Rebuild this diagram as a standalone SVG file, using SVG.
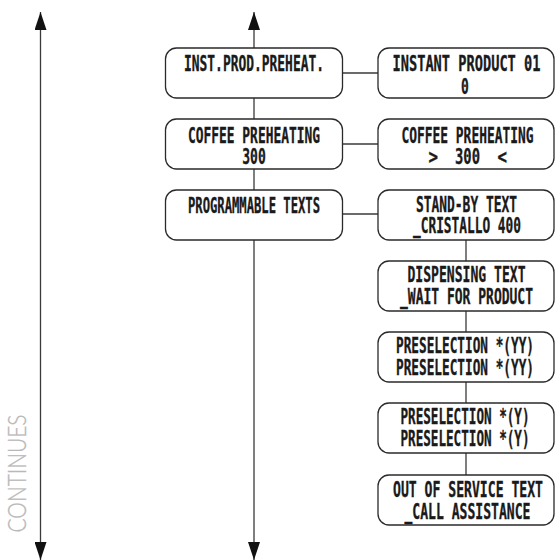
<svg xmlns="http://www.w3.org/2000/svg" width="555" height="560" viewBox="0 0 555 560">
<style>
.box{fill:#fff;stroke:#2a2a2a;stroke-width:1.3}
.ln{stroke:#3a3a3a;stroke-width:1.3;fill:none}
.t{font-family:"DejaVu Sans Mono","Liberation Mono",monospace;font-weight:bold;font-size:21.5px;fill:#1a1a1a;stroke:#1a1a1a;stroke-width:0.35;text-anchor:middle}
.ts{text-anchor:start}
.cont{font-family:Lato,"Open Sans","DejaVu Sans",sans-serif;font-weight:300;font-size:26px;fill:#b8b8b8;stroke:#b8b8b8;stroke-width:0.3;text-anchor:middle}
</style>
<defs>
<marker id="ah" viewBox="0 0 18 12" refX="18" refY="6" markerWidth="18" markerHeight="12" markerUnits="userSpaceOnUse" orient="auto-start-reverse">
<path d="M0,0 L18,6 L0,12 Z" fill="#111"/>
</marker>
</defs>
<g id="connectors">
<line class="ln" x1="40.5" y1="12" x2="40.5" y2="560" marker-start="url(#ah)" marker-end="url(#ah)"/>
<line class="ln" x1="254" y1="12" x2="254" y2="48" marker-start="url(#ah)"/>
<line class="ln" x1="254" y1="98" x2="254" y2="119"/>
<line class="ln" x1="254" y1="169" x2="254" y2="190"/>
<line class="ln" x1="254" y1="240" x2="254" y2="560" marker-end="url(#ah)"/>
<line class="ln" x1="342.5" y1="73" x2="378" y2="73"/>
<line class="ln" x1="342.5" y1="144" x2="378" y2="144"/>
<line class="ln" x1="342.5" y1="214" x2="378" y2="214"/>
<line class="ln" x1="466" y1="240" x2="466" y2="261"/>
<line class="ln" x1="466" y1="311" x2="466" y2="332"/>
<line class="ln" x1="466" y1="382" x2="466" y2="403"/>
<line class="ln" x1="466" y1="453" x2="466" y2="475"/>
</g>
<g id="n-inst-prod-preheat">
<rect class="box" x="165.5" y="48" width="177" height="50" rx="11"/>
<text class="t" x="254" y="71" textLength="140" lengthAdjust="spacingAndGlyphs">INST.PROD.PREHEAT.</text>
</g>
<g id="n-coffee-preheating">
<rect class="box" x="165.5" y="119" width="177" height="50" rx="11"/>
<text class="t" x="254" y="142.8" textLength="132" lengthAdjust="spacingAndGlyphs">COFFEE PREHEATING</text>
<text class="t" x="254" y="164.2" textLength="23.5" lengthAdjust="spacingAndGlyphs">300</text>
</g>
<g id="n-programmable-texts">
<rect class="box" x="165.5" y="190" width="177" height="50" rx="11"/>
<text class="t" x="254" y="212.8" textLength="132" lengthAdjust="spacingAndGlyphs">PROGRAMMABLE TEXTS</text>
</g>
<g id="n-instant-product">
<rect class="box" x="378" y="48" width="176" height="50" rx="11"/>
<text class="t" x="466.5" y="71.3" textLength="148" lengthAdjust="spacingAndGlyphs">INSTANT PRODUCT  01</text>
<text class="t" x="465" y="94.3" textLength="7.8" lengthAdjust="spacingAndGlyphs">0</text>
</g>
<g id="n-coffee-preheating-val">
<rect class="box" x="378" y="119" width="176" height="50" rx="11"/>
<text class="t" x="467.5" y="142.8" textLength="132" lengthAdjust="spacingAndGlyphs">COFFEE PREHEATING</text>
<text class="t ts" y="163.7"><tspan x="428.5" textLength="9.5" lengthAdjust="spacingAndGlyphs">&gt;</tspan> <tspan x="455" textLength="25" lengthAdjust="spacingAndGlyphs">300</tspan> <tspan x="497.5" textLength="9.5" lengthAdjust="spacingAndGlyphs">&lt;</tspan></text>
</g>
<g id="n-stand-by">
<rect class="box" x="378" y="190" width="176" height="50" rx="11"/>
<text class="t" x="466.5" y="211.8" textLength="101" lengthAdjust="spacingAndGlyphs">STAND-BY TEXT</text>
<text class="t" x="467" y="232.8" textLength="108" lengthAdjust="spacingAndGlyphs">_CRISTALLO 400</text>
</g>
<g id="n-dispensing">
<rect class="box" x="378" y="261" width="176" height="50" rx="11"/>
<text class="t" x="466.5" y="282" textLength="118" lengthAdjust="spacingAndGlyphs">DISPENSING TEXT</text>
<text class="t" x="466.5" y="303.5" textLength="133" lengthAdjust="spacingAndGlyphs">_WAIT FOR PRODUCT</text>
</g>
<g id="n-preselection-yy">
<rect class="box" x="378" y="332" width="176" height="50" rx="11"/>
<text class="t" x="465" y="353" textLength="138" lengthAdjust="spacingAndGlyphs">PRESELECTION *(YY)</text>
<text class="t" x="465" y="375.2" textLength="138" lengthAdjust="spacingAndGlyphs">PRESELECTION *(YY)</text>
</g>
<g id="n-preselection-y">
<rect class="box" x="378" y="403" width="176" height="50" rx="11"/>
<text class="t" x="465" y="424.2" textLength="129" lengthAdjust="spacingAndGlyphs">PRESELECTION *(Y)</text>
<text class="t" x="465" y="446.2" textLength="129" lengthAdjust="spacingAndGlyphs">PRESELECTION *(Y)</text>
</g>
<g id="n-out-of-service">
<rect class="box" x="378" y="475" width="176" height="50" rx="11"/>
<text class="t" x="468" y="497.2" textLength="150" lengthAdjust="spacingAndGlyphs">OUT OF SERVICE TEXT</text>
<text class="t" x="467.5" y="518.7" textLength="126" lengthAdjust="spacingAndGlyphs">_CALL ASSISTANCE</text>
</g>
<text class="cont" transform="translate(26,473.5) rotate(-90)" textLength="118" lengthAdjust="spacingAndGlyphs">CONTINUES</text>
</svg>
